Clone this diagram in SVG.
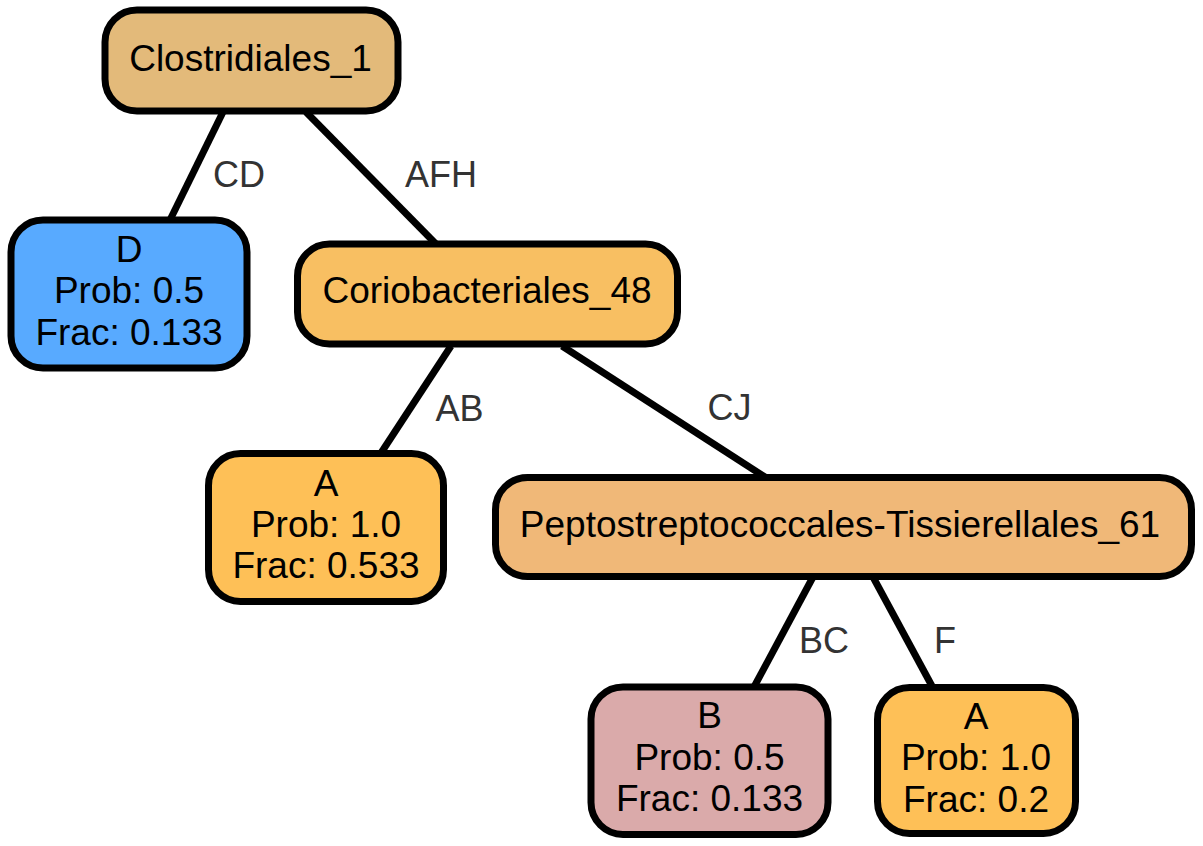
<svg xmlns="http://www.w3.org/2000/svg" width="1203" height="846" viewBox="0 0 1203 846">
<style>
.node rect{stroke:#000;stroke-width:7}
.node text{font-family:"Liberation Sans",Arial,sans-serif;font-size:37px;fill:#000;text-anchor:middle}
.edges line{stroke:#000;stroke-width:7}
.edges text{font-family:"Liberation Sans",Arial,sans-serif;font-size:36px;fill:#333}
</style>
<rect width="1203" height="846" fill="#fff"/>
<g id="edges" class="edges">
<line x1="223" y1="112" x2="170" y2="220"/>
<line x1="306" y1="112" x2="436" y2="244"/>
<line x1="451" y1="346" x2="381" y2="453"/>
<line x1="562" y1="346" x2="765" y2="477"/>
<line x1="813" y1="577" x2="754" y2="687"/>
<line x1="873" y1="577" x2="932.5" y2="687"/>
<text x="213" y="187">CD</text>
<text x="405" y="187">AFH</text>
<text x="435.5" y="420.5">AB</text>
<text x="707.5" y="420">CJ</text>
<text x="799" y="653">BC</text>
<text x="934" y="653">F</text>
</g>
<g id="n_clostridiales" class="node">
<rect x="105" y="10" width="293" height="101" rx="32" fill="#E3BA7A"/>
<text x="250.5" y="71">Clostridiales_1</text>
</g>
<g id="n_D" class="node">
<rect x="11" y="220" width="236" height="148" rx="32" fill="#58AAFF"/>
<text x="129" y="261.7">D</text>
<text x="129" y="303.3">Prob: 0.5</text>
<text x="129" y="345">Frac: 0.133</text>
</g>
<g id="n_corio" class="node">
<rect x="297.5" y="244" width="380" height="100" rx="32" fill="#F8BF62"/>
<text x="487" y="303.3">Coriobacteriales_48</text>
</g>
<g id="n_A1" class="node">
<rect x="208.5" y="453.5" width="235" height="148" rx="32" fill="#FEC057"/>
<text x="326" y="495.7">A</text>
<text x="326" y="536.7">Prob: 1.0</text>
<text x="326" y="578.3">Frac: 0.533</text>
</g>
<g id="n_pepto" class="node">
<rect x="495.5" y="477.5" width="696" height="99" rx="32" fill="#F0B878"/>
<text x="840" y="537.3">Peptostreptococcales-Tissierellales_61</text>
</g>
<g id="n_B" class="node">
<rect x="591" y="687" width="237" height="147.5" rx="32" fill="#DAAAAA"/>
<text x="709.5" y="728.3">B</text>
<text x="709.5" y="770">Prob: 0.5</text>
<text x="709.5" y="810.7">Frac: 0.133</text>
</g>
<g id="n_A2" class="node">
<rect x="877.5" y="687.5" width="198" height="146" rx="32" fill="#FEC057"/>
<text x="976" y="729.3">A</text>
<text x="976" y="770">Prob: 1.0</text>
<text x="976" y="811.7">Frac: 0.2</text>
</g>
</svg>
